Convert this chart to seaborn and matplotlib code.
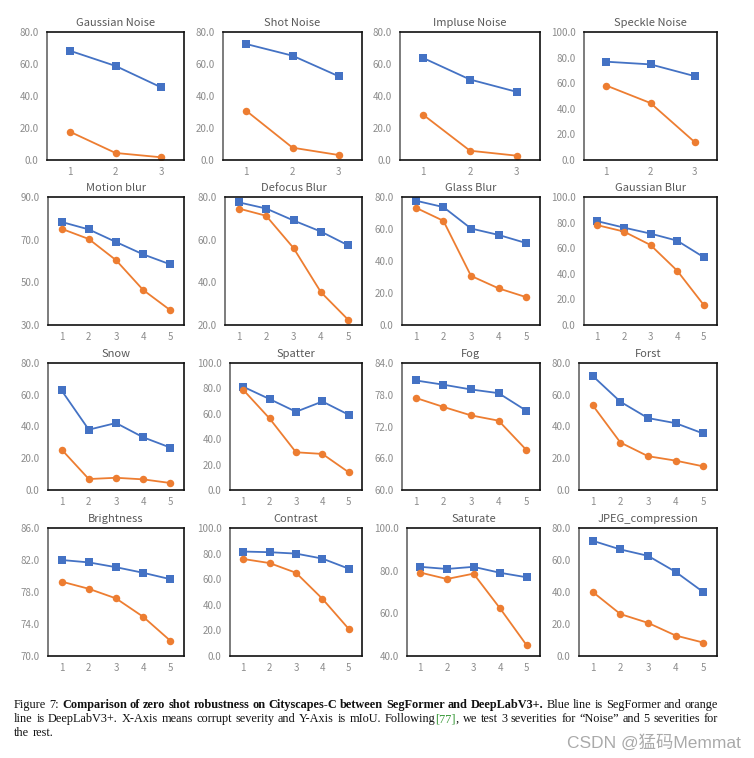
import matplotlib
matplotlib.use('Agg')
import matplotlib.pyplot as plt
import seaborn as sns
from matplotlib.ticker import FormatStrFormatter

# ---------------- data ----------------
titles = ["Gaussian Noise", "Shot Noise", "Impluse Noise", "Speckle Noise",
          "Motion blur", "Defocus Blur", "Glass Blur", "Gaussian Blur",
          "Snow", "Spatter", "Fog", "Forst",
          "Brightness", "Contrast", "Saturate", "JPEG_compression"]

segformer = [
    [68.3, 58.8, 45.4],
    [72.5, 65.2, 52.3],
    [63.7, 50.3, 42.6],
    [76.8, 74.7, 65.5],
    [78.3, 74.8, 68.9, 63.1, 58.4],
    [77.5, 74.6, 69.0, 63.8, 57.3],
    [77.7, 73.7, 60.3, 56.3, 51.2],
    [81.1, 76.1, 71.4, 65.9, 53.0],
    [62.7, 38.0, 42.2, 33.2, 26.7],
    [81.3, 71.6, 61.6, 69.7, 59.2],
    [80.7, 79.9, 79.0, 78.3, 75.0],
    [71.8, 55.6, 45.3, 42.1, 35.6],
    [82.0, 81.7, 81.1, 80.4, 79.6],
    [81.6, 81.1, 80.0, 76.1, 68.2],
    [81.8, 80.8, 81.8, 79.0, 76.9],
    [72.0, 66.6, 62.6, 52.6, 40.0],
]

deeplab = [
    [17.7, 4.4, 1.7],
    [30.8, 7.7, 3.1],
    [28.2, 5.8, 2.7],
    [58.2, 44.5, 13.9],
    [75.1, 70.3, 60.4, 46.4, 36.9],
    [74.6, 71.2, 56.1, 35.4, 22.4],
    [73.3, 65.1, 30.7, 22.9, 17.4],
    [78.0, 73.0, 62.5, 42.5, 15.7],
    [25.5, 6.9, 7.7, 6.7, 4.4],
    [78.9, 56.3, 29.7, 28.4, 13.9],
    [77.4, 75.7, 74.1, 73.1, 67.6],
    [53.3, 29.9, 21.3, 18.5, 14.9],
    [79.3, 78.4, 77.2, 74.9, 71.9],
    [75.8, 72.6, 65.0, 44.7, 21.1],
    [79.1, 76.1, 78.6, 62.3, 45.0],
    [40.0, 26.2, 20.7, 12.8, 8.4],
]

y_ticks = [
    [0, 20, 40, 60, 80],
    [0, 20, 40, 60, 80],
    [0, 20, 40, 60, 80],
    [0, 20, 40, 60, 80, 100],
    [30, 50, 70, 90],
    [20, 40, 60, 80],
    [0, 20, 40, 60, 80],
    [0, 20, 40, 60, 80, 100],
    [0, 20, 40, 60, 80],
    [0, 20, 40, 60, 80, 100],
    [60, 66, 72, 78, 84],
    [0, 20, 40, 60, 80],
    [70, 74, 78, 82, 86],
    [0, 20, 40, 60, 80, 100],
    [40, 60, 80, 100],
    [0, 20, 40, 60, 80],
]

caption_lines = [
    [("Figure 7: ", "n"),
     ("Comparison of zero shot robustness on Cityscapes-C between SegFormer and DeepLabV3+.", "b"),
     (" Blue line is SegFormer and orange", "n")],
    [("line is DeepLabV3+.  X-Axis means corrupt severity and Y-Axis is mIoU. Following", "n"),
     ("[77]", "g"),
     (", we test 3 severities for \u201cNoise\u201d and 5 severities for", "n")],
    [("the rest.", "n")],
]
watermark = "CSDN @猛码Memmat"

# ---------------- layout (pixels) ----------------
W, H = 754, 758
lefts = [47, 223, 400, 584,
         48, 225, 402, 584,
         48, 230, 402, 579,
         48, 230, 407, 579]
rights = [184, 362, 540, 717]
rows = [(32, 160), (197, 325), (363, 490), (528, 656)]

BLUE = "#4472C4"
ORANGE = "#ED7D31"
TICK_C = "#8c8c8c"
TITLE_C = "#595959"

sns.set_theme(style="white")
plt.rcParams['font.family'] = ['Noto Sans CJK SC', 'DejaVu Sans']

fig = plt.figure(figsize=(W / 100, H / 100), dpi=100)
fig.patch.set_facecolor("white")

for i, title in enumerate(titles):
    r, c = divmod(i, 4)
    top, bot = rows[r]
    l = lefts[i]
    rr = rights[c]
    ax = fig.add_axes([l / W, 1 - bot / H, (rr - l) / W, (bot - top) / H])
    blue = segformer[i]
    orange = deeplab[i]
    xs = list(range(1, len(blue) + 1))
    sns.lineplot(x=xs, y=blue, ax=ax, color=BLUE, marker="s", markersize=5.2,
                 markeredgewidth=0, linewidth=1.3)
    sns.lineplot(x=xs, y=orange, ax=ax, color=ORANGE, marker="o", markersize=5.4,
                 markeredgewidth=0, linewidth=1.3)
    ticks = y_ticks[i]
    ax.set_xlim(0.5, len(xs) + 0.5)
    ax.set_ylim(ticks[0], ticks[-1])
    ax.set_yticks(ticks)
    ax.set_xticks(xs)
    ax.yaxis.set_major_formatter(FormatStrFormatter("%.1f"))
    ax.tick_params(axis="both", length=0, labelsize=7, labelcolor=TICK_C)
    ax.tick_params(axis="y", pad=6)
    ax.tick_params(axis="x", pad=5)
    ax.set_xlabel("")
    ax.set_ylabel("")
    for s in ["top", "right", "bottom"]:
        ax.spines[s].set_visible(True)
        ax.spines[s].set_color("#111111")
        ax.spines[s].set_linewidth(1.2)
    ax.spines["left"].set_color("#666666")
    ax.spines["left"].set_linewidth(1.2)
    ax.grid(False)
    ax.set_title(title, fontsize=8, color=TITLE_C, pad=4)

# ---------------- caption ----------------
renderer = fig.canvas.get_renderer()
styles = {
    "n": dict(family="Liberation Serif", weight="normal", color="#111111"),
    "b": dict(family="Liberation Serif", weight="bold", color="#111111"),
    "g": dict(family="Liberation Serif", weight="normal", color="#3a9a3a"),
}


def words_of(segments):
    words = [[]]
    for text, st in segments:
        parts = text.split(" ")
        for k, p in enumerate(parts):
            if k > 0:
                words.append([])
            if p:
                words[-1].append((p, st))
    return [w for w in words if w]


def measure(text, st, size):
    t = fig.text(0, 0, text, fontsize=size, **styles[st])
    w = t.get_window_extent(renderer).width
    t.remove()
    return w


x_left, x_right = 14, 718
line_y = [705, 719, 733]

# fit the font size so that line 1 fills the width with normal spacing
base = 8.0
words1 = words_of(caption_lines[0])
nat = sum(sum(measure(p, st, base) for p, st in w) for w in words1)
sp = measure("x x", "n", base) - measure("xx", "n", base)
nat += sp * (len(words1) - 1)
CAP_SIZE = base * (x_right - x_left) / nat

space_w = measure("x x", "n", CAP_SIZE) - measure("xx", "n", CAP_SIZE)
for li, segs in enumerate(caption_lines):
    words = words_of(segs)
    widths = [sum(measure(p, st, CAP_SIZE) for p, st in w) for w in words]
    justify = li < len(caption_lines) - 1
    if justify and len(words) > 1:
        gap = (x_right - x_left - sum(widths)) / (len(words) - 1)
    else:
        gap = space_w
    x = x_left
    for w, ww in zip(words, widths):
        xx = x
        for p, st in w:
            fig.text(xx / W, 1 - line_y[li] / H, p, fontsize=CAP_SIZE,
                     va="center", ha="left", **styles[st])
            xx += measure(p, st, CAP_SIZE)
        x += ww + gap

fig.text(567 / W, 1 - 742 / H, watermark, fontsize=12.5, color="#aaaaaa",
         family=["Liberation Sans", "Noto Sans CJK SC"], va="center", ha="left")

fig.savefig("out.png", dpi=100, facecolor="white")
